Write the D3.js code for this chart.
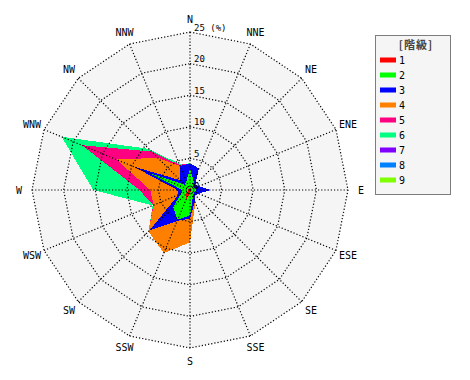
<!DOCTYPE html>
<html><head><meta charset="utf-8">
<script src="https://cdn.jsdelivr.net/npm/d3@7"></script>
<style>body{margin:0;background:#fff}svg{display:block}</style>
</head><body><svg id="c" width="470" height="380"></svg>
<script>
const directions = ["N","NNE","NE","ENE","E","ESE","SE","SSE","S","SSW","SW","WSW","W","WNW","NW","NNW"];
const classNames = ["1","2","3","4","5","6","7","8","9"];
const classColors = ["#ff0000","#00ff00","#0000ff","#ff8000","#ff0080","#00ff80","#8000ff","#0080ff","#80ff00"];
// frequency (%) per class, in direction order above
const class1 = [0.3,0.6,0.2,0.2,0.3,0.2,0.2,0.3,0.5,1.6,0.8,0.3,0.2,0.3,0.2,0.2];
const class2 = [3.1,0.9,0.5,0.6,0.7,0.6,0.6,0.9,3.5,3.5,3.0,1.2,1.0,6.7,1.0,1.3];
const class3 = [0.8,2.2,0.5,0.7,2.3,0.7,0.4,0.8,0.5,0.2,5.2,0.5,0.8,2.7,1.0,2.6];
const class4 = [0,0,0,0,0,0,0,0.2,3.8,5.5,0.3,4.2,4.3,2.9,5.0,0];
const class5 = [0,0,0,0,0,0,0,0,0,0,0,0.1,1.7,5.9,1.4,0.2];
const class6 = [0,0,0,0,0,0,0,0,0,0,0,0.1,7.3,3.5,0.6,0.2];
const class7 = [0,0,0,0,0,0,0,0,0,0,0,0,0,0,0,0];
const class8 = [0,0,0,0,0,0,0,0,0,0,0,0,0,0,0,0];
const class9 = [0,0,0,0,0,0,0,0,0,0,0,0,0,0,0,0];
const tickValues = [5,10,15,20,25];
const tickLabels = ["5","10","15","20","25 (%)"];
const legendTitle = "[階級]";

const series = [class1,class2,class3,class4,class5,class6,class7,class8,class9];
const rows = directions.map((d,i)=>{const o={dir:d}; classNames.forEach((c,k)=>o[c]=series[k][i]); return o;});
const stacked = d3.stack().keys(classNames)(rows);

const cx=190, cy=190;
const svg = d3.select("#c");
const r = d3.scaleLinear().domain([0,25]).range([0,158]);
const ang = d3.scalePoint().domain(directions).range([0, 2*Math.PI*15/16]);
const g = svg.append("g").attr("transform",`translate(${cx},${cy})`);

const ringLine = v => d3.lineRadial().curve(d3.curveLinearClosed)
  .angle(d=>ang(d)).radius(()=>r(v))(directions);

// background
g.append("path").attr("d", ringLine(25)).attr("fill","#f5f5f5");

// data polygons, outermost first
const area = d3.lineRadial().curve(d3.curveLinearClosed)
  .angle(d=>ang(d.data.dir)).radius(d=>r(d[1]));
for (let k=stacked.length-1;k>=0;k--){
  g.append("path").attr("d", area(stacked[k])).attr("fill", classColors[k])
   .attr("shape-rendering","crispEdges");
}

// grid
tickValues.forEach(t=>{
  g.append("path").attr("d", ringLine(t)).attr("fill","none")
   .attr("stroke","#000").attr("stroke-width",1.2).attr("stroke-dasharray","1.2,2");
});
directions.forEach(d=>{
  const a=ang(d);
  g.append("line").attr("x1",0).attr("y1",0)
   .attr("x2", r(25)*Math.sin(a)).attr("y2", -r(25)*Math.cos(a))
   .attr("stroke","#000").attr("stroke-width",1.2).attr("stroke-dasharray","1.2,2");
});

// tick labels
tickValues.forEach((t,i)=>{
  g.append("text").attr("x",4).attr("y",-r(t)-1.5).text(tickLabels[i])
   .attr("font-family","DejaVu Sans Mono").attr("font-size",9).attr("fill","#000");
});
g.append("text").attr("x",4).attr("y",-1).text("0")
   .attr("font-family","DejaVu Sans Mono").attr("font-size",9).attr("fill","#000");

// direction labels
directions.forEach(d=>{
  const a=ang(d), R=171;
  g.append("text").attr("x",R*Math.sin(a)).attr("y",-R*Math.cos(a))
   .attr("text-anchor","middle").attr("dominant-baseline","central")
   .attr("font-family","DejaVu Sans Mono").attr("font-size",10).attr("fill","#000").text(d);
});

// legend
const lg = svg.append("g");
lg.append("rect").attr("x",375.5).attr("y",35.5).attr("width",75).attr("height",159)
  .attr("fill","#f5f5f5").attr("stroke","#000").attr("stroke-dasharray","1,1");
lg.append("text").attr("x",416).attr("y",44).attr("text-anchor","middle")
  .attr("dominant-baseline","central").attr("letter-spacing",1)
  .attr("font-family","Noto Sans CJK JP").attr("font-size",11).attr("font-weight","bold").attr("fill","#444").text(legendTitle);
classNames.forEach((c,i)=>{
  const y=60+15*i;
  lg.append("rect").attr("x",380).attr("y",y-2.5).attr("width",16).attr("height",5).attr("fill",classColors[i]);
  lg.append("text").attr("x",399).attr("y",y).attr("dominant-baseline","central")
   .attr("font-family","DejaVu Sans Mono").attr("font-size",10).attr("fill","#000").text(c);
});
</script></body></html>
